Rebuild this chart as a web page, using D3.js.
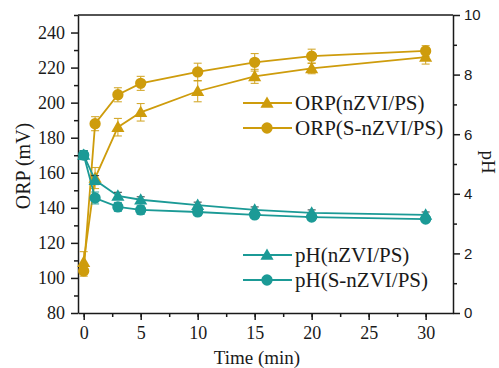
<!DOCTYPE html>
<html>
<head>
<meta charset="utf-8">
<script src="https://cdn.jsdelivr.net/npm/d3@7"></script>
<style>
  body { margin: 0; background: #fff; }
  svg text { fill: #1a1a1a; }
</style>
</head>
<body>
<div id="plot-container"></div>
<script>
// data
const time = [0, 1, 3, 5, 10, 15, 20, 30];
const orpN = [109, 157, 186, 194.5, 206.5, 215, 219.5, 226];
const orpNErr = [6, 6, 5, 5, 6, 4, 3, 4];
const orpS = [104, 188, 204.5, 211, 217.5, 223, 226.5, 229.5];
const orpSErr = [3, 4, 4, 4, 5, 5, 4, 3];
const phN = [5.30, 4.46, 3.93, 3.80, 3.62, 3.46, 3.36, 3.29];
const phNErr = [0.15, 0.15, 0.12, 0.1, 0.1, 0.1, 0.1, 0.1];
const phS = [5.30, 3.86, 3.56, 3.46, 3.39, 3.29, 3.22, 3.15];
const phSErr = [0.15, 0.2, 0.15, 0.15, 0.12, 0.1, 0.1, 0.08];

const xTicks = [0, 5, 10, 15, 20, 25, 30];
const orpTicks = [80, 100, 120, 140, 160, 180, 200, 220, 240];
const phTicks = [0, 2, 4, 6, 8, 10];

const gold = '#CE9C0C';
const teal = '#1B9A96';

const width = 499, height = 368;
const padL = 78, padR = 453, padT = 15, padB = 313;

const svg = d3.select('#plot-container')
  .append('svg')
  .attr('width', width)
  .attr('height', height);

const x = d3.scaleLinear().domain([-0.5, 32.4]).range([padL, padR]);
const yL = d3.scaleLinear().domain([80, 250]).range([padB, padT]);
const yR = d3.scaleLinear().domain([0, 10]).range([padB, padT]);

const serif = '"Liberation Serif", "Times New Roman", serif';
const sans = '"Liberation Sans", Arial, sans-serif';

// frame
svg.append('line').attr('x1', padL).attr('x2', padR).attr('y1', padT).attr('y2', padT)
  .attr('stroke', '#1a1a1a').attr('stroke-width', 1.5);

// bottom axis
const xMinor = d3.range(0, 32.5, 2.5);
svg.append('g').attr('transform', `translate(0,${padB})`)
  .call(d3.axisBottom(x).tickValues(xMinor).tickSize(4).tickFormat(''))
  .call(g => g.select('.domain').remove());
svg.append('g').attr('transform', `translate(0,${padB})`)
  .call(d3.axisBottom(x).tickValues(xTicks).tickSize(7).tickSizeOuter(0).tickPadding(6))
  .call(g => g.selectAll('text').attr('font-family', serif).attr('font-size', 18));

// left axis
svg.append('g').attr('transform', `translate(${padL},0)`)
  .call(d3.axisLeft(yL).tickValues(d3.range(90, 251, 20)).tickSize(4).tickFormat(''))
  .call(g => g.select('.domain').remove());
svg.append('g').attr('transform', `translate(${padL},0)`)
  .call(d3.axisLeft(yL).tickValues(orpTicks).tickSize(7).tickSizeOuter(0).tickPadding(6))
  .call(g => g.selectAll('text').attr('font-family', serif).attr('font-size', 18));

// right axis
svg.append('g').attr('transform', `translate(${padR},0)`)
  .call(d3.axisRight(yR).tickValues([1, 3, 5, 7, 9]).tickSize(4).tickFormat(''))
  .call(g => g.select('.domain').remove());
svg.append('g').attr('transform', `translate(${padR},0)`)
  .call(d3.axisRight(yR).tickValues(phTicks).tickSize(7).tickSizeOuter(0).tickPadding(4))
  .call(g => g.selectAll('text').attr('font-family', sans).attr('font-size', 15));

svg.selectAll('.domain, .tick line').attr('stroke', '#1a1a1a').attr('stroke-width', 1.5);

// axis titles
svg.append('text').attr('x', 257).attr('y', 364)
  .attr('text-anchor', 'middle').attr('font-family', serif).attr('font-size', 19)
  .text('Time (min)');
svg.append('text').attr('transform', 'translate(30,166) rotate(-90)')
  .attr('text-anchor', 'middle').attr('font-family', serif).attr('font-size', 20)
  .text('ORP (mV)');
svg.append('text').attr('transform', 'translate(482,162) rotate(90)')
  .attr('text-anchor', 'middle').attr('font-family', serif).attr('font-size', 19)
  .text('pH');

const tri = d3.symbol().type(d3.symbolTriangle).size(75);
const circ = d3.symbol().type(d3.symbolCircle).size(100);

function series(vals, errs, y, color, sym, errColor) {
  const pts = time.map((t, i) => ({ t, v: vals[i], e: errs[i] }));
  const g = svg.append('g');
  const line = d3.line().x(d => x(d.t)).y(d => y(d.v));
  g.append('path').attr('d', line(pts))
    .attr('fill', 'none').attr('stroke', color).attr('stroke-width', 1.8);
  const eb = g.selectAll('.eb').data(pts).enter().append('g')
    .attr('stroke', errColor).attr('stroke-width', 1.1).attr('opacity', 0.85);
  eb.append('line').attr('x1', d => x(d.t)).attr('x2', d => x(d.t))
    .attr('y1', d => y(d.v - d.e)).attr('y2', d => y(d.v + d.e));
  eb.append('line').attr('x1', d => x(d.t) - 4).attr('x2', d => x(d.t) + 4)
    .attr('y1', d => y(d.v - d.e)).attr('y2', d => y(d.v - d.e));
  eb.append('line').attr('x1', d => x(d.t) - 4).attr('x2', d => x(d.t) + 4)
    .attr('y1', d => y(d.v + d.e)).attr('y2', d => y(d.v + d.e));
  g.selectAll('.m').data(pts).enter().append('path')
    .attr('d', sym)
    .attr('transform', d => `translate(${x(d.t)},${y(d.v) + (sym === tri ? 1 : 0)})`)
    .attr('fill', color);
}

series(orpN, orpNErr, yL, gold, tri, gold);
series(orpS, orpSErr, yL, gold, circ, gold);
series(phN, phNErr, yR, teal, tri, '#1f2f2f');
series(phS, phSErr, yR, teal, circ, teal);

// legends
const legendItems = [
  { label: 'ORP(nZVI/PS)', color: gold, sym: tri, y: 103 },
  { label: 'ORP(S-nZVI/PS)', color: gold, sym: circ, y: 128 },
  { label: 'pH(nZVI/PS)', color: teal, sym: tri, y: 255 },
  { label: 'pH(S-nZVI/PS)', color: teal, sym: circ, y: 280 }
];
const lg = svg.selectAll('.lg').data(legendItems).enter().append('g');
lg.append('line').attr('x1', 243).attr('x2', 292)
  .attr('y1', d => d.y).attr('y2', d => d.y)
  .attr('stroke', d => d.color).attr('stroke-width', 1.8);
lg.append('path').attr('d', d => d.sym())
  .attr('transform', d => `translate(267,${d.y + (d.sym === tri ? 1 : 0)})`)
  .attr('fill', d => d.color);
lg.append('text').attr('x', 295).attr('y', d => d.y + 7)
  .attr('font-family', serif).attr('font-size', 21)
  .text(d => d.label);
</script>
</body>
</html>
